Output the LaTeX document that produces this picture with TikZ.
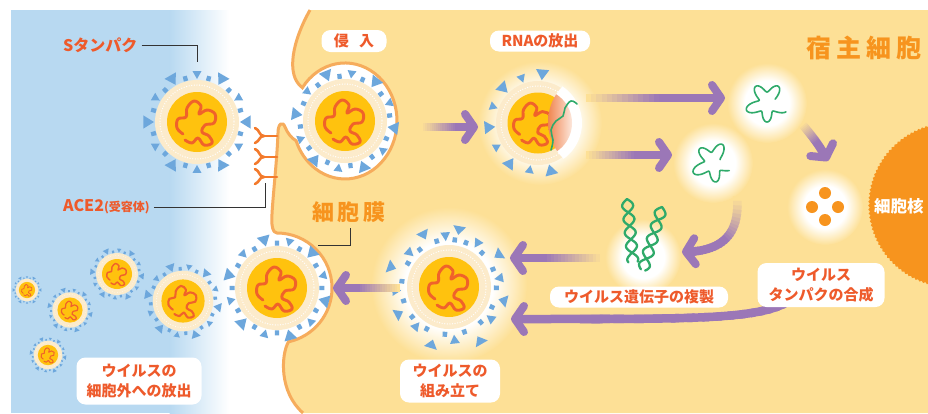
\documentclass[tikz,border=0pt]{standalone}
\usepackage{fontspec}
\newfontfamily\jp{Noto Sans CJK JP}
\usetikzlibrary{arrows.meta,decorations.pathmorphing,calc}

\definecolor{cellbg}{HTML}{FDE096}
\definecolor{membr}{HTML}{F6AC5C}
\definecolor{outbg}{HTML}{B8D9F1}
\definecolor{spikecol}{HTML}{6DA7DC}
\definecolor{corecol}{HTML}{FFC20E}
\definecolor{ringcol}{HTML}{FCEBCB}
\definecolor{rnacol}{HTML}{F0622A}
\definecolor{acecol}{HTML}{F37A2C}
\definecolor{lblcol}{HTML}{EE5A2B}
\definecolor{titlecol}{HTML}{F7941E}
\definecolor{arrowcol}{HTML}{9B77B7}
\definecolor{genecol}{HTML}{2FAA6A}
\definecolor{cutorange}{HTML}{F0824A}
\definecolor{leadcol}{HTML}{333333}

% soft white halo that fades into the cytoplasm colour
\pgfdeclareradialshading{glow}{\pgfpoint{0bp}{0bp}}{color(0bp)=(white); color(14bp)=(white); color(25bp)=(cellbg); color(50bp)=(cellbg)}

% wavy genome inside a capsid (core radius 30)
\newcommand\rnacurve{plot[smooth, tension=0.65] coordinates {(-14,12) (-20,6) (-19,-3) (-11,-5) (-10,-14) (-3,-21) (4,-16) (2,-8) (10,-12) (18,-8) (17,1) (8,3) (5,10) (12,14) (15,21) (7,23) (1,16) (-5,21) (-12,18)}}

% envelope, core and genome of one virion
\newcommand\virusbody[3]{%
  \begin{scope}[shift={(#1,#2)}, scale=#3]
    \pgfmathsetmacro\rlw{2.9*#3}
    \pgfmathsetmacro\dlw{1.3*#3}
    \fill[ringcol] (0,0) circle (42);
    \draw[white, line width=\dlw pt, line cap=round, dash pattern=on 0pt off 2.6pt] (0,0) circle (37);
    \fill[corecol] (0,0) circle (30);
    \draw[rnacol, line width=\rlw pt, line cap=round, line join=round] \rnacurve;
  \end{scope}}

% spike proteins around a virion, #4 = angular offset
\newcommand\virusspikes[4]{%
  \begin{scope}[shift={(#1,#2)}, scale=#3]
    \foreach \a [count=\k] in {0,30,...,330}{%
      \pgfmathsetmacro\aa{\a+#4}%
      \pgfmathsetmacro\w{mod(\k,2)==1 ? 7 : 5}%
      \pgfmathsetmacro\r{mod(\k,2)==1 ? 54 : 51}%
      \fill[spikecol] (\aa:43) -- ({\aa-\w}:\r) -- ({\aa+\w}:\r) -- cycle;
      \pgfmathsetmacro\bb{\aa+15}%
      \fill[spikecol] ({\bb-3}:42.5) -- ({\bb+3}:42.5) -- ({\bb+2.5}:47.5) -- ({\bb-2.5}:47.5) -- cycle;
    }
  \end{scope}}

\newcommand\virus[4]{\virusbody{#1}{#2}{#3}\virusspikes{#1}{#2}{#3}{#4}}

% purple process arrow whose tail fades out: #1 fade share, #2 path
\newcommand\fadearrow[2]{%
  \foreach \i in {0,...,23}{%
    \pgfmathsetmacro\ta{0.9*\i/24}%
    \pgfmathsetmacro\tb{min(0.9,0.9*(\i+1.5)/24)}%
    \pgfmathsetmacro\pc{min(100,100*\ta/#1)}%
    \path #2 coordinate[pos=\ta] (fa-s) coordinate[pos=\tb] (fa-e);
    \draw[line width=8.5, draw=arrowcol!\pc!cellbg] (fa-s) -- (fa-e);
  }%
  \path #2 coordinate[pos=0.85] (fa-s) coordinate[pos=1] (fa-e);
  \draw[arrowcol, line width=8.5, -{Straight Barb[length=9pt,width=26pt,line width=8pt,round]}] (fa-s) -- (fa-e);
}

% wavy single-strand RNA in a halo
\newcommand\greenrna[3]{%
  \draw[genecol, line width=1.6, line cap=round] plot[domain=25:335, samples=140, smooth]
    ({#1+(15+5.5*sin(5*\x+#3)+1.5*sin(3*\x))*cos(\x)}, {#2+(15+5.5*sin(5*\x+#3)+1.5*sin(3*\x))*sin(\x)});}

% double helix from (#1,#2) along the vector (#3,#4)
\newcommand\helix[4]{%
  \pgfmathsetmacro\hl{sqrt((#3)*(#3)+(#4)*(#4))}%
  \pgfmathsetmacro\nx{-(#4)/\hl}%
  \pgfmathsetmacro\ny{(#3)/\hl}%
  \pgfmathsetmacro\turns{\hl/27*360}%
  \foreach \ph in {0,180}{%
    \draw[genecol, line width=2.3, line cap=round] plot[domain=0:1, samples=70, smooth]
      ({#1+(#3)*\x+5.5*sin(\x*\turns+\ph)*\nx}, {#2+(#4)*\x+5.5*sin(\x*\turns+\ph)*\ny});
  }}

% host-cell membrane, from the top edge down to the bottom edge
\def\membrane{(310,10) .. controls (293,40) and (285,75) .. (302.4,87.7)
  arc[x radius=52, y radius=58, start angle=215, end angle=520]
  .. controls (291,138) and (287,132) .. (285,127)
  .. controls (283,121) and (278,123) .. (278,133)
  .. controls (277,160) and (273,195) .. (272,214)
  .. controls (271,226) and (273,233) .. (277,233)
  arc[radius=55, start angle=-90, end angle=78]
  .. controls (281,355) and (279,392) .. (303,413)}

\begin{document}
\begin{tikzpicture}[x=1pt, y=-1pt,
  lbl/.style={fill=white, rounded corners=9pt, text=lblcol, inner sep=0pt, align=center,
    font=\jp\bfseries\fontsize{15}{20}\selectfont},
  leader/.style={draw=leadcol, line width=1},
  receptor/.style={draw=acecol, line width=2.6, line cap=round}]

\useasboundingbox (0,0) rectangle (928,413);
\clip (0,0) rectangle (928,413);
\fill[white] (0,0) rectangle (928,413);

% extracellular space
\fill[outbg] (11,10) rectangle (170,413);
\shade[left color=outbg, right color=white] (169.5,10) rectangle (229,413);

% cytoplasm and membrane
\fill[cellbg] \membrane -- (928,413) -- (928,10) -- cycle;
\draw[membr, line width=3] \membrane;

% nucleus
\fill[titlecol, decorate, decoration={zigzag, segment length=4, amplitude=0.8}] (951,205) circle (82);

% halos
\shade[shading=glow] (540,123) circle (62);
\shade[shading=glow] (767,103) circle (40);
\shade[shading=glow] (713,163) circle (40);
\shade[shading=glow] (825,207) circle (38);
\shade[shading=glow] (643,257) circle (38);
\shade[shading=glow] (449,285) circle (78);

% ACE2 receptors
\foreach \yy [count=\n] in {136,157,177}{
  \coordinate (ace\n) at (277,\yy);
  \coordinate (fork\n) at (264,\yy);
  \draw[receptor] (ace\n) -- (fork\n);
  \draw[receptor] (fork\n) .. controls (259,\yy) and (260,{\yy-6}) .. (255,{\yy-8});
  \draw[receptor] (fork\n) .. controls (259,\yy) and (260,{\yy+5}) .. (255,{\yy+7});
}

% virions outside the cell
\virus{197}{122}{1}{0}
\virus{183}{301}{0.72}{10}
\virus{117}{274}{0.5}{5}
\virus{70}{310}{0.42}{12}
\virus{27}{290}{0.27}{0}
\virus{48}{355}{0.34}{8}

% entry and budding virions
\virus{345}{121}{1}{8}
\virus{277}{288}{1}{15}

% uncoating: virion opens and releases its genome
\begin{scope}
  \fill[ringcol] (538,123) circle (42);
  \draw[white, line width=1.3, line cap=round, dash pattern=on 0pt off 2.6pt] (538,123) circle (37);
  \begin{scope}
    \clip (538,123) circle (44);
    \fill[white] (599,122) circle (51);
  \end{scope}
  \fill[corecol] (538,123) circle (30.5);
  \begin{scope}[shift={(533,123)}, scale=0.95]
    \draw[rnacol, line width=2.9, line cap=round, line join=round] \rnacurve;
  \end{scope}
  \begin{scope}
    \clip (538,123) circle (34);
    \clip (599,122) circle (51);
    \shade[left color=cutorange, right color=white] (547,85) rectangle (578,162);
    \fill[white] (577.5,85) rectangle (610,162);
  \end{scope}
  \foreach \a [count=\k] in {75,100,...,290}{
    \pgfmathsetmacro\w{mod(\k,2)==1 ? 7 : 5}
    \pgfmathsetmacro\r{mod(\k,2)==1 ? 54 : 51}
    \fill[spikecol] ($(538,123)+(\a:43)$) -- ($(538,123)+({\a-\w}:\r)$) -- ($(538,123)+({\a+\w}:\r)$) -- cycle;
  }
  \draw[genecol, line width=1.6, line cap=round] plot[smooth, tension=0.7] coordinates
    {(551,150) (553,140) (551,130) (556,121) (563,116) (565,108) (571,101) (577,104)};
\end{scope}

% assembly: spikes gather round a new capsid
\virusbody{449}{287}{1}
\foreach \a/\r/\w in {-80/62/6, -57/56/5, -33/63/6, -10/55/5, 14/60/6, 37/56/5, 60/66/6, 84/57/5,
                      107/64/6, 130/55/5, 152/61/6, 176/57/5, 199/65/6, 221/56/5, 244/62/6, 266/55/5}{
  \pgfmathsetmacro\ri{\r-9}
  \fill[spikecol] ($(449,287)+(\a:\ri)$) -- ($(449,287)+({\a-\w}:\r)$) -- ($(449,287)+({\a+\w}:\r)$) -- cycle;
  \pgfmathsetmacro\bb{\a+11}
  \fill[spikecol] ($(449,287)+({\bb-3}:45)$) -- ($(449,287)+({\bb+3}:45)$) -- ($(449,287)+({\bb+2.5}:50)$) -- ($(449,287)+({\bb-2.5}:50)$) -- cycle;
}

% released genomes, replication and protein synthesis
\greenrna{767}{103}{0}
\greenrna{713}{163}{40}
\helix{627}{199}{6}{63}
\helix{662}{207}{-19}{63}
\foreach \dx/\dy in {0/-14, -13/0, 13/0, 0/13}
  \fill[titlecol] ({825+\dx},{207+\dy}) circle (6);

% process arrows
\coordinate (a1t) at (421,127); \coordinate (a1h) at (478,127);
\coordinate (a2t) at (586,98);  \coordinate (a2h) at (725,98);
\coordinate (a3t) at (586,155); \coordinate (a3h) at (672,155);
\coordinate (a4t) at (802,124); \coordinate (a4h) at (828,161);
\coordinate (a5t) at (737,196); \coordinate (a5h) at (682,252);
\coordinate (a6t) at (603,258); \coordinate (a6h) at (510,258);
\coordinate (a7t) at (808,262); \coordinate (a7h) at (511,319);
\coordinate (a8t) at (400,288); \coordinate (a8h) at (333,288);
\fadearrow{0.6}{(a1t) -- (a1h)}
\fadearrow{0.5}{(a2t) -- (a2h)}
\fadearrow{0.55}{(a3t) -- (a3h)}
\fadearrow{0.5}{(a4t) .. controls (812,136) and (820,146) .. (a4h)}
\fadearrow{0.45}{(a5t) .. controls (741,240) and (716,252) .. (a5h)}
\fadearrow{0.6}{(a6t) -- (a6h)}
\fadearrow{0.2}{(a7t) .. controls (805,322) and (760,319) .. (a7h)}
\fadearrow{0.6}{(a8t) -- (a8h)}

% stage labels
\node[lbl, minimum width=65, minimum height=22] (lab-entry) at (354,41) {侵\hspace{0.7em}入};
\node[lbl, minimum width=100, minimum height=21] (lab-rna) at (540,41) {RNAの放出};
\node[lbl, minimum width=178, minimum height=21] (lab-repl) at (639,297) {ウイルス遺伝子の複製};
\node[lbl, minimum width=127, minimum height=44] (lab-prot) at (821,285) {ウイルス\\タンパクの合成};
\node[lbl, minimum width=100, minimum height=43] (lab-asm) at (450,381) {ウイルスの\\組み立て};
\node[lbl, minimum width=125, minimum height=47] (lab-rel) at (139,381) {ウイルスの\\細胞外への放出};

% titles
\node[anchor=west, text=titlecol, inner sep=0, font=\jp\bfseries\fontsize{25}{25}\selectfont] (lab-host) at (806,48)
  {宿\hspace{5pt}主\hspace{5pt}細\hspace{5pt}胞};
\node[text=titlecol, inner sep=0, font=\jp\bfseries\fontsize{22}{22}\selectfont] (lab-mem) at (349,212)
  {細\hspace{4pt}胞\hspace{4pt}膜};
\node[anchor=west, text=white, inner sep=0, font=\jp\bfseries\fontsize{16.5}{16.5}\selectfont] (lab-nuc) at (874,206) {細胞核};

% callouts
\node[anchor=west, text=lblcol, inner sep=0, font=\jp\bfseries\fontsize{16}{16}\selectfont] (lab-s) at (63,45) {Sタンパク};
\node[anchor=west, text=lblcol, inner sep=0, font=\jp\bfseries\fontsize{16}{16}\selectfont] (lab-ace) at (63,207)
  {ACE2{\fontsize{12}{12}\selectfont(受容体)}};
\coordinate (spiketop) at (197,62);
\coordinate (acefoot) at (265,183);
\coordinate (memtop) at (350,228);
\coordinate (memtouch) at (318,245);
\draw[leader] ([xshift=4pt]lab-s.east) -| (spiketop);
\draw[leader] ([xshift=4pt]lab-ace.east) -| (acefoot);
\draw[leader] (memtop) |- (memtouch);

\end{tikzpicture}
\end{document}
